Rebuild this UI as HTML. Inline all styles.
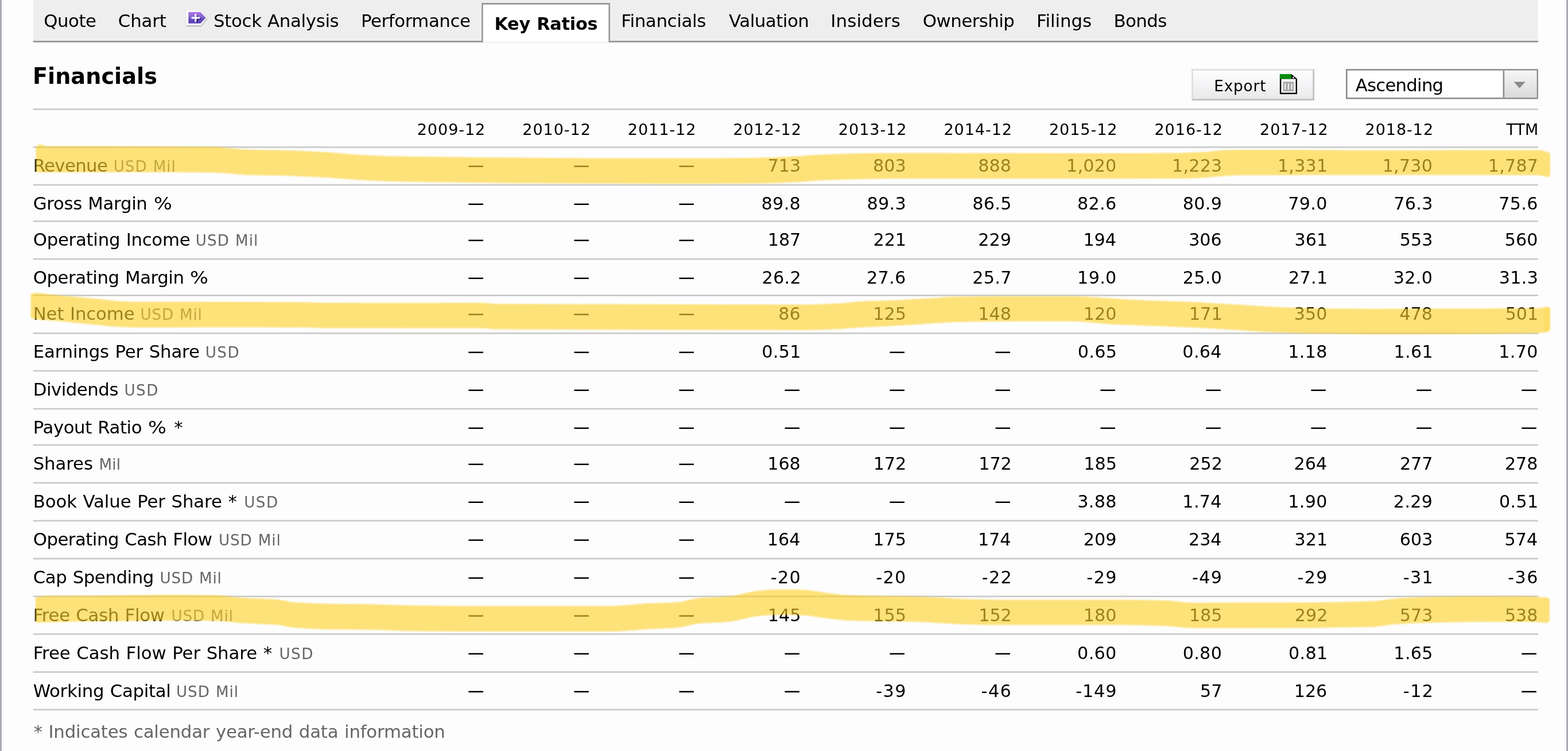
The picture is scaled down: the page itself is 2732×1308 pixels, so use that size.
<!DOCTYPE html>
<html lang="en">
<head>
<meta charset="utf-8">
<title>Key Ratios - Financials</title>
<style>
html,body,h2,p{margin:0;padding:0;}
h2{font-weight:bold;}
body{width:2732px;height:1308px;overflow:hidden;background:#fdfdfd;position:relative;font-family:"DejaVu Sans", "Liberation Sans", sans-serif;color:#000;}
#page{position:absolute;left:0;top:0;width:2732px;height:1308px;overflow:hidden;}
#page .t,#page .bx{position:absolute;white-space:nowrap;line-height:40px;}
#page svg{position:absolute;left:0;top:0;}
.u{color:#666;}
#tabbar{left:57.6px;top:0;width:2622.4px;height:71px;background:#eee;}
#lstrip{left:0;top:0;width:3px;height:1308px;background:#a9abb3;}
#rstrip{left:2729px;top:0;width:3px;height:1308px;background:#a9abb3;}
</style>
</head>
<body>
<div id="page">

<div id="lstrip" class="bx"></div><div id="rstrip" class="bx"></div>
<div id="tabbar" class="bx"></div>
<svg id="chrome" width="2732" height="1308" viewBox="0 0 2732 1308">
<defs>
<linearGradient id="bg1" x1="0" y1="0" x2="0" y2="1"><stop offset="0" stop-color="#fefefe"/><stop offset="0.45" stop-color="#f5f5f7"/><stop offset="1" stop-color="#e9e9ea"/></linearGradient>
<linearGradient id="bg2" x1="0" y1="0" x2="0" y2="1"><stop offset="0" stop-color="#f6f6f6"/><stop offset="1" stop-color="#dadada"/></linearGradient>
<linearGradient id="pg" x1="0" y1="0" x2="0" y2="1"><stop offset="0" stop-color="#b074e6"/><stop offset="0.4" stop-color="#8a68d2"/><stop offset="0.6" stop-color="#6a50c4"/><stop offset="1" stop-color="#5a3eb6"/></linearGradient>
<filter id="sh" x="-20%" y="-20%" width="140%" height="150%"><feGaussianBlur stdDeviation="1"/></filter>
</defs>
<rect x="57.6" y="71.1" width="2622.4" height="2.6" fill="#8f8f8f"/>
<rect x="839" y="5.1" width="224" height="69" fill="#9a9a9a"/>
<rect x="841.7" y="8" width="218.6" height="66.1" fill="#fff"/>
<rect x="841.7" y="73.2" width="218.6" height="0.9" fill="#ececec"/>
<rect x="57.6" y="188.95" width="2622.4" height="2.7" fill="#cacaca"/>
<rect x="57.6" y="254.95" width="2622.4" height="2.7" fill="#cacaca"/>
<rect x="57.6" y="320.65" width="2622.4" height="2.7" fill="#cacaca"/>
<rect x="57.6" y="383.95" width="2622.4" height="2.7" fill="#cacaca"/>
<rect x="57.6" y="449.85" width="2622.4" height="2.7" fill="#cacaca"/>
<rect x="57.6" y="513.15" width="2622.4" height="2.7" fill="#cacaca"/>
<rect x="57.6" y="579.15" width="2622.4" height="2.7" fill="#cacaca"/>
<rect x="57.6" y="644.65" width="2622.4" height="2.7" fill="#cacaca"/>
<rect x="57.6" y="710.65" width="2622.4" height="2.7" fill="#cacaca"/>
<rect x="57.6" y="773.65" width="2622.4" height="2.7" fill="#cacaca"/>
<rect x="57.6" y="839.65" width="2622.4" height="2.7" fill="#cacaca"/>
<rect x="57.6" y="905.65" width="2622.4" height="2.7" fill="#cacaca"/>
<rect x="57.6" y="971.65" width="2622.4" height="2.7" fill="#cacaca"/>
<rect x="57.6" y="1037.45" width="2622.4" height="2.7" fill="#cacaca"/>
<rect x="57.6" y="1103.15" width="2622.4" height="2.7" fill="#cacaca"/>
<rect x="57.6" y="1169.15" width="2622.4" height="2.7" fill="#cacaca"/>
<rect x="57.6" y="1234.65" width="2622.4" height="2.7" fill="#cacaca"/>
<rect x="2076" y="120.1" width="214" height="54.8" fill="#bdbdbd"/>
<path d="M2076 120.1 H2290 L2287.4 122.7 H2078.6 V172.3 L2076 174.9 Z" fill="#dedede"/>
<rect x="2078.6" y="122.7" width="208.8" height="49.6" fill="url(#bg1)"/>
<rect x="2345" y="120.2" width="335" height="52.3" fill="#8c8c8c"/>
<rect x="2347.6" y="122.8" width="329.8" height="47.1" fill="#fff"/>
<rect x="2620" y="122.8" width="57.4" height="47.1" fill="url(#bg2)"/>
<rect x="2618.6" y="122.8" width="2.6" height="47.1" fill="#8c8c8c"/>
<path d="M2637.5 142.5 H2657.6 L2647.5 153.8 Z" fill="#8a8a8a"/>
<path d="M324.5 21 H350 L361.5 32.5 L350 46 H324.5 Z" fill="#000" opacity="0.28" filter="url(#sh)"/>
<path d="M323.6 18.6 H350 L361 31 L350 44.2 H323.6 Z" fill="#f7f7f7"/>
<path d="M328.3 20.9 H349.3 L358.6 31 L349.3 40.7 H328.3 Z" fill="url(#pg)"/>
<path d="M343 27 h2 v5 h5 v2 h-5 v5 h-3 v-5" fill="#1c1a6a" opacity="0.75"/>
<rect x="333.6" y="29.6" width="14.4" height="3" fill="#fff"/>
<rect x="339.3" y="24" width="3" height="14.2" fill="#fff"/>
<path d="M2229.9 129 H2250 L2260 137.2 V163.9 H2229.9 Z" fill="#000"/>
<rect x="2232.3" y="137.4" width="25.3" height="24.1" fill="#f6f6f6"/>
<rect x="2229.9" y="129" width="20.1" height="8.4" fill="#078a07"/>
<rect x="2252.2" y="133.6" width="2.6" height="2.6" fill="#eee"/>
<rect x="2235.7" y="142.4" width="18.5" height="16.6" fill="#a6a6a6"/>
<rect x="2238.2" y="145.4" width="2.2" height="10.6" fill="#f4f4f4"/>
<rect x="2243.8" y="145.4" width="2.2" height="10.6" fill="#f4f4f4"/>
<rect x="2249.5" y="145.4" width="2.2" height="10.6" fill="#f4f4f4"/>
</svg>
<nav id="tabs" role="tablist">
<div class="t" role="tab" style="left:76.17px;top:16px;font-size:30.8px;letter-spacing:-0.441px;word-spacing:1.00px;">Quote</div>
<div class="t" role="tab" style="left:205.87px;top:16px;font-size:30.8px;letter-spacing:-0.168px;word-spacing:1.00px;">Chart</div>
<div class="t" role="tab" style="left:372.07px;top:16px;font-size:30.8px;letter-spacing:-0.331px;word-spacing:1.00px;">Stock Analysis</div>
<div class="t" role="tab" style="left:629.08px;top:16px;font-size:30.8px;letter-spacing:-0.441px;word-spacing:1.00px;">Performance</div>
<div class="t" role="tab" style="left:861.43px;top:22px;font-size:30.2px;letter-spacing:-0.177px;word-spacing:1.00px;font-weight:bold;">Key Ratios</div>
<div class="t" role="tab" style="left:1082.33px;top:16px;font-size:30.8px;letter-spacing:-0.338px;word-spacing:1.00px;">Financials</div>
<div class="t" role="tab" style="left:1270.11px;top:16px;font-size:30.8px;letter-spacing:-0.474px;word-spacing:1.00px;">Valuation</div>
<div class="t" role="tab" style="left:1447.33px;top:16px;font-size:30.8px;letter-spacing:0.137px;word-spacing:1.00px;">Insiders</div>
<div class="t" role="tab" style="left:1607.87px;top:16px;font-size:30.8px;letter-spacing:-0.528px;word-spacing:1.00px;">Ownership</div>
<div class="t" role="tab" style="left:1806.08px;top:16px;font-size:30.8px;letter-spacing:-0.065px;word-spacing:1.00px;">Filings</div>
<div class="t" role="tab" style="left:1940.58px;top:16px;font-size:30.8px;letter-spacing:-0.616px;word-spacing:1.00px;">Bonds</div>
</nav>
<section id="toolbar">
<h2 class="t" style="left:56.89px;top:113px;font-size:38.2px;letter-spacing:0.046px;font-weight:bold;">Financials</h2>
<div class="t" role="button" style="left:2115.21px;top:130px;font-size:26.4px;letter-spacing:0.781px;">Export</div>
<div class="t" role="combobox" style="left:2361.76px;top:128px;font-size:30.8px;letter-spacing:-0.783px;">Ascending</div>
</section>
<section id="financials" role="table">
<div class="row" role="row">
<div class="t" role="columnheader" style="left:726.72px;top:206px;font-size:27.0px;letter-spacing:0.961px;">2009-12</div>
<div class="t" role="columnheader" style="left:910.26px;top:206px;font-size:27.0px;letter-spacing:0.961px;">2010-12</div>
<div class="t" role="columnheader" style="left:1093.79px;top:206px;font-size:27.0px;letter-spacing:0.961px;">2011-12</div>
<div class="t" role="columnheader" style="left:1277.33px;top:206px;font-size:27.0px;letter-spacing:0.961px;">2012-12</div>
<div class="t" role="columnheader" style="left:1460.86px;top:206px;font-size:27.0px;letter-spacing:0.961px;">2013-12</div>
<div class="t" role="columnheader" style="left:1644.40px;top:206px;font-size:27.0px;letter-spacing:0.961px;">2014-12</div>
<div class="t" role="columnheader" style="left:1827.93px;top:206px;font-size:27.0px;letter-spacing:0.961px;">2015-12</div>
<div class="t" role="columnheader" style="left:2011.47px;top:206px;font-size:27.0px;letter-spacing:0.961px;">2016-12</div>
<div class="t" role="columnheader" style="left:2195.00px;top:206px;font-size:27.0px;letter-spacing:0.961px;">2017-12</div>
<div class="t" role="columnheader" style="left:2378.54px;top:206px;font-size:27.0px;letter-spacing:0.961px;">2018-12</div>
<div class="t" role="columnheader" style="left:2624.48px;top:206px;font-size:27.0px;letter-spacing:0.026px;">TTM</div>
</div>
<div class="row" role="row">
<div class="t lb" style="left:57.70px;top:268px;font-size:30.8px;letter-spacing:-0.657px;word-spacing:1.00px;">Revenue</div>
<div class="t u" style="left:197.67px;top:270px;font-size:26.2px;letter-spacing:0.985px;word-spacing:0.80px;">USD Mil</div>
<div class="t" role="cell" style="left:815.12px;top:268px;font-size:35px;transform:scaleX(0.8074);transform-origin:0 0;">—</div>
<div class="t" role="cell" style="left:998.65px;top:268px;font-size:35px;transform:scaleX(0.8074);transform-origin:0 0;">—</div>
<div class="t" role="cell" style="left:1182.19px;top:268px;font-size:35px;transform:scaleX(0.8074);transform-origin:0 0;">—</div>
<div class="t" role="cell" style="left:1337.53px;top:269px;font-size:30.2px;">713</div>
<div class="t" role="cell" style="left:1521.07px;top:269px;font-size:30.2px;">803</div>
<div class="t" role="cell" style="left:1704.25px;top:269px;font-size:30.2px;">888</div>
<div class="t" role="cell" style="left:1858.11px;top:269px;font-size:30.2px;letter-spacing:0.200px;">1,020</div>
<div class="t" role="cell" style="left:2042.06px;top:269px;font-size:30.2px;letter-spacing:0.200px;">1,223</div>
<div class="t" role="cell" style="left:2225.96px;top:269px;font-size:30.2px;letter-spacing:0.200px;">1,331</div>
<div class="t" role="cell" style="left:2408.71px;top:269px;font-size:30.2px;letter-spacing:0.200px;">1,730</div>
<div class="t" role="cell" style="left:2592.82px;top:269px;font-size:30.2px;letter-spacing:0.200px;">1,787</div>
</div>
<div class="row" role="row">
<div class="t lb" style="left:57.70px;top:334px;font-size:30.8px;letter-spacing:-0.324px;word-spacing:1.00px;">Gross Margin</div>
<div class="t lb" style="left:267.80px;top:334px;font-size:30.8px;transform:scaleX(1.0900);transform-origin:0 0;">%</div>
<div class="t" role="cell" style="left:815.12px;top:334px;font-size:35px;transform:scaleX(0.8074);transform-origin:0 0;">—</div>
<div class="t" role="cell" style="left:998.65px;top:334px;font-size:35px;transform:scaleX(0.8074);transform-origin:0 0;">—</div>
<div class="t" role="cell" style="left:1182.19px;top:334px;font-size:35px;transform:scaleX(0.8074);transform-origin:0 0;">—</div>
<div class="t" role="cell" style="left:1326.58px;top:335px;font-size:30.2px;letter-spacing:0.333px;">89.8</div>
<div class="t" role="cell" style="left:1510.47px;top:335px;font-size:30.2px;letter-spacing:0.333px;">89.3</div>
<div class="t" role="cell" style="left:1694.22px;top:335px;font-size:30.2px;letter-spacing:0.333px;">86.5</div>
<div class="t" role="cell" style="left:1877.02px;top:335px;font-size:30.2px;letter-spacing:0.333px;">82.6</div>
<div class="t" role="cell" style="left:2060.78px;top:335px;font-size:30.2px;letter-spacing:0.333px;">80.9</div>
<div class="t" role="cell" style="left:2244.19px;top:335px;font-size:30.2px;letter-spacing:0.333px;">79.0</div>
<div class="t" role="cell" style="left:2428.14px;top:335px;font-size:30.2px;letter-spacing:0.333px;">76.3</div>
<div class="t" role="cell" style="left:2611.16px;top:335px;font-size:30.2px;letter-spacing:0.333px;">75.6</div>
</div>
<div class="row" role="row">
<div class="t lb" style="left:57.70px;top:397px;font-size:30.8px;letter-spacing:-0.278px;word-spacing:1.00px;">Operating Income</div>
<div class="t u" style="left:340.82px;top:399px;font-size:26.2px;letter-spacing:1.043px;word-spacing:0.80px;">USD Mil</div>
<div class="t" role="cell" style="left:815.12px;top:397px;font-size:35px;transform:scaleX(0.8074);transform-origin:0 0;">—</div>
<div class="t" role="cell" style="left:998.65px;top:397px;font-size:35px;transform:scaleX(0.8074);transform-origin:0 0;">—</div>
<div class="t" role="cell" style="left:1182.19px;top:397px;font-size:35px;transform:scaleX(0.8074);transform-origin:0 0;">—</div>
<div class="t" role="cell" style="left:1337.69px;top:398px;font-size:30.2px;">187</div>
<div class="t" role="cell" style="left:1521.43px;top:398px;font-size:30.2px;">221</div>
<div class="t" role="cell" style="left:1704.31px;top:398px;font-size:30.2px;">229</div>
<div class="t" role="cell" style="left:1887.41px;top:398px;font-size:30.2px;">194</div>
<div class="t" role="cell" style="left:2071.15px;top:398px;font-size:30.2px;">306</div>
<div class="t" role="cell" style="left:2255.57px;top:398px;font-size:30.2px;">361</div>
<div class="t" role="cell" style="left:2438.74px;top:398px;font-size:30.2px;">553</div>
<div class="t" role="cell" style="left:2621.86px;top:398px;font-size:30.2px;">560</div>
</div>
<div class="row" role="row">
<div class="t lb" style="left:57.70px;top:463px;font-size:30.8px;letter-spacing:-0.444px;word-spacing:1.00px;">Operating Margin</div>
<div class="t lb" style="left:331.20px;top:463px;font-size:30.8px;transform:scaleX(1.0900);transform-origin:0 0;">%</div>
<div class="t" role="cell" style="left:815.12px;top:463px;font-size:35px;transform:scaleX(0.8074);transform-origin:0 0;">—</div>
<div class="t" role="cell" style="left:998.65px;top:463px;font-size:35px;transform:scaleX(0.8074);transform-origin:0 0;">—</div>
<div class="t" role="cell" style="left:1182.19px;top:463px;font-size:35px;transform:scaleX(0.8074);transform-origin:0 0;">—</div>
<div class="t" role="cell" style="left:1327.54px;top:464px;font-size:30.2px;letter-spacing:0.333px;">26.2</div>
<div class="t" role="cell" style="left:1509.95px;top:464px;font-size:30.2px;letter-spacing:0.333px;">27.6</div>
<div class="t" role="cell" style="left:1694.16px;top:464px;font-size:30.2px;letter-spacing:0.333px;">25.7</div>
<div class="t" role="cell" style="left:1877.12px;top:464px;font-size:30.2px;letter-spacing:0.333px;">19.0</div>
<div class="t" role="cell" style="left:2060.66px;top:464px;font-size:30.2px;letter-spacing:0.333px;">25.0</div>
<div class="t" role="cell" style="left:2244.97px;top:464px;font-size:30.2px;letter-spacing:0.333px;">27.1</div>
<div class="t" role="cell" style="left:2427.73px;top:464px;font-size:30.2px;letter-spacing:0.333px;">32.0</div>
<div class="t" role="cell" style="left:2611.68px;top:464px;font-size:30.2px;letter-spacing:0.333px;">31.3</div>
</div>
<div class="row" role="row">
<div class="t lb" style="left:57.70px;top:526px;font-size:30.8px;letter-spacing:-0.139px;word-spacing:1.00px;">Net Income</div>
<div class="t u" style="left:244.42px;top:528px;font-size:26.2px;letter-spacing:0.860px;word-spacing:0.80px;">USD Mil</div>
<div class="t" role="cell" style="left:815.12px;top:526px;font-size:35px;transform:scaleX(0.8074);transform-origin:0 0;">—</div>
<div class="t" role="cell" style="left:998.65px;top:526px;font-size:35px;transform:scaleX(0.8074);transform-origin:0 0;">—</div>
<div class="t" role="cell" style="left:1182.19px;top:526px;font-size:35px;transform:scaleX(0.8074);transform-origin:0 0;">—</div>
<div class="t" role="cell" style="left:1356.23px;top:527px;font-size:30.2px;">86</div>
<div class="t" role="cell" style="left:1521.29px;top:527px;font-size:30.2px;">125</div>
<div class="t" role="cell" style="left:1704.25px;top:527px;font-size:30.2px;">148</div>
<div class="t" role="cell" style="left:1887.72px;top:527px;font-size:30.2px;">120</div>
<div class="t" role="cell" style="left:2072.04px;top:527px;font-size:30.2px;">171</div>
<div class="t" role="cell" style="left:2254.79px;top:527px;font-size:30.2px;">350</div>
<div class="t" role="cell" style="left:2438.39px;top:527px;font-size:30.2px;">478</div>
<div class="t" role="cell" style="left:2622.64px;top:527px;font-size:30.2px;">501</div>
</div>
<div class="row" role="row">
<div class="t lb" style="left:57.70px;top:592px;font-size:30.8px;letter-spacing:-0.177px;word-spacing:1.00px;">Earnings Per Share</div>
<div class="t u" style="left:357.67px;top:594px;font-size:26.2px;letter-spacing:1.522px;word-spacing:0.80px;">USD</div>
<div class="t" role="cell" style="left:815.12px;top:592px;font-size:35px;transform:scaleX(0.8074);transform-origin:0 0;">—</div>
<div class="t" role="cell" style="left:998.65px;top:592px;font-size:35px;transform:scaleX(0.8074);transform-origin:0 0;">—</div>
<div class="t" role="cell" style="left:1182.19px;top:592px;font-size:35px;transform:scaleX(0.8074);transform-origin:0 0;">—</div>
<div class="t" role="cell" style="left:1327.30px;top:593px;font-size:30.2px;letter-spacing:0.333px;">0.51</div>
<div class="t" role="cell" style="left:1549.26px;top:592px;font-size:35px;transform:scaleX(0.8074);transform-origin:0 0;">—</div>
<div class="t" role="cell" style="left:1732.79px;top:592px;font-size:35px;transform:scaleX(0.8074);transform-origin:0 0;">—</div>
<div class="t" role="cell" style="left:1877.76px;top:593px;font-size:30.2px;letter-spacing:0.333px;">0.65</div>
<div class="t" role="cell" style="left:2060.35px;top:593px;font-size:30.2px;letter-spacing:0.333px;">0.64</div>
<div class="t" role="cell" style="left:2244.25px;top:593px;font-size:30.2px;letter-spacing:0.333px;">1.18</div>
<div class="t" role="cell" style="left:2428.51px;top:593px;font-size:30.2px;letter-spacing:0.333px;">1.61</div>
<div class="t" role="cell" style="left:2611.26px;top:593px;font-size:30.2px;letter-spacing:0.333px;">1.70</div>
</div>
<div class="row" role="row">
<div class="t lb" style="left:57.70px;top:658px;font-size:30.8px;letter-spacing:-0.484px;word-spacing:1.00px;">Dividends</div>
<div class="t u" style="left:216.42px;top:660px;font-size:26.2px;letter-spacing:1.522px;word-spacing:0.80px;">USD</div>
<div class="t" role="cell" style="left:815.12px;top:658px;font-size:35px;transform:scaleX(0.8074);transform-origin:0 0;">—</div>
<div class="t" role="cell" style="left:998.65px;top:658px;font-size:35px;transform:scaleX(0.8074);transform-origin:0 0;">—</div>
<div class="t" role="cell" style="left:1182.19px;top:658px;font-size:35px;transform:scaleX(0.8074);transform-origin:0 0;">—</div>
<div class="t" role="cell" style="left:1365.72px;top:658px;font-size:35px;transform:scaleX(0.8074);transform-origin:0 0;">—</div>
<div class="t" role="cell" style="left:1549.26px;top:658px;font-size:35px;transform:scaleX(0.8074);transform-origin:0 0;">—</div>
<div class="t" role="cell" style="left:1732.79px;top:658px;font-size:35px;transform:scaleX(0.8074);transform-origin:0 0;">—</div>
<div class="t" role="cell" style="left:1916.33px;top:658px;font-size:35px;transform:scaleX(0.8074);transform-origin:0 0;">—</div>
<div class="t" role="cell" style="left:2099.86px;top:658px;font-size:35px;transform:scaleX(0.8074);transform-origin:0 0;">—</div>
<div class="t" role="cell" style="left:2283.40px;top:658px;font-size:35px;transform:scaleX(0.8074);transform-origin:0 0;">—</div>
<div class="t" role="cell" style="left:2466.93px;top:658px;font-size:35px;transform:scaleX(0.8074);transform-origin:0 0;">—</div>
<div class="t" role="cell" style="left:2650.47px;top:658px;font-size:35px;transform:scaleX(0.8074);transform-origin:0 0;">—</div>
</div>
<div class="row" role="row">
<div class="t lb" style="left:57.70px;top:724px;font-size:30.8px;letter-spacing:-0.428px;word-spacing:1.00px;">Payout Ratio</div>
<div class="t lb" style="left:258.20px;top:724px;font-size:30.8px;transform:scaleX(1.0900);transform-origin:0 0;">%</div>
<div class="t lb" style="left:303.30px;top:724px;font-size:30.8px;">*</div>
<div class="t" role="cell" style="left:815.12px;top:724px;font-size:35px;transform:scaleX(0.8074);transform-origin:0 0;">—</div>
<div class="t" role="cell" style="left:998.65px;top:724px;font-size:35px;transform:scaleX(0.8074);transform-origin:0 0;">—</div>
<div class="t" role="cell" style="left:1182.19px;top:724px;font-size:35px;transform:scaleX(0.8074);transform-origin:0 0;">—</div>
<div class="t" role="cell" style="left:1365.72px;top:724px;font-size:35px;transform:scaleX(0.8074);transform-origin:0 0;">—</div>
<div class="t" role="cell" style="left:1549.26px;top:724px;font-size:35px;transform:scaleX(0.8074);transform-origin:0 0;">—</div>
<div class="t" role="cell" style="left:1732.79px;top:724px;font-size:35px;transform:scaleX(0.8074);transform-origin:0 0;">—</div>
<div class="t" role="cell" style="left:1916.33px;top:724px;font-size:35px;transform:scaleX(0.8074);transform-origin:0 0;">—</div>
<div class="t" role="cell" style="left:2099.86px;top:724px;font-size:35px;transform:scaleX(0.8074);transform-origin:0 0;">—</div>
<div class="t" role="cell" style="left:2283.40px;top:724px;font-size:35px;transform:scaleX(0.8074);transform-origin:0 0;">—</div>
<div class="t" role="cell" style="left:2466.93px;top:724px;font-size:35px;transform:scaleX(0.8074);transform-origin:0 0;">—</div>
<div class="t" role="cell" style="left:2650.47px;top:724px;font-size:35px;transform:scaleX(0.8074);transform-origin:0 0;">—</div>
</div>
<div class="row" role="row">
<div class="t lb" style="left:57.70px;top:787px;font-size:30.8px;letter-spacing:-0.125px;word-spacing:1.00px;">Shares</div>
<div class="t u" style="left:172.38px;top:789px;font-size:26.2px;letter-spacing:0.282px;word-spacing:0.80px;">Mil</div>
<div class="t" role="cell" style="left:815.12px;top:787px;font-size:35px;transform:scaleX(0.8074);transform-origin:0 0;">—</div>
<div class="t" role="cell" style="left:998.65px;top:787px;font-size:35px;transform:scaleX(0.8074);transform-origin:0 0;">—</div>
<div class="t" role="cell" style="left:1182.19px;top:787px;font-size:35px;transform:scaleX(0.8074);transform-origin:0 0;">—</div>
<div class="t" role="cell" style="left:1337.18px;top:788px;font-size:30.2px;">168</div>
<div class="t" role="cell" style="left:1521.67px;top:788px;font-size:30.2px;">172</div>
<div class="t" role="cell" style="left:1705.21px;top:788px;font-size:30.2px;">172</div>
<div class="t" role="cell" style="left:1888.36px;top:788px;font-size:30.2px;">185</div>
<div class="t" role="cell" style="left:2072.28px;top:788px;font-size:30.2px;">252</div>
<div class="t" role="cell" style="left:2254.48px;top:788px;font-size:30.2px;">264</div>
<div class="t" role="cell" style="left:2438.90px;top:788px;font-size:30.2px;">277</div>
<div class="t" role="cell" style="left:2621.92px;top:788px;font-size:30.2px;">278</div>
</div>
<div class="row" role="row">
<div class="t lb" style="left:57.70px;top:853px;font-size:30.8px;letter-spacing:-0.121px;word-spacing:1.00px;">Book Value Per Share *</div>
<div class="t u" style="left:425.17px;top:855px;font-size:26.2px;letter-spacing:1.522px;word-spacing:0.80px;">USD</div>
<div class="t" role="cell" style="left:815.12px;top:853px;font-size:35px;transform:scaleX(0.8074);transform-origin:0 0;">—</div>
<div class="t" role="cell" style="left:998.65px;top:853px;font-size:35px;transform:scaleX(0.8074);transform-origin:0 0;">—</div>
<div class="t" role="cell" style="left:1182.19px;top:853px;font-size:35px;transform:scaleX(0.8074);transform-origin:0 0;">—</div>
<div class="t" role="cell" style="left:1365.72px;top:853px;font-size:35px;transform:scaleX(0.8074);transform-origin:0 0;">—</div>
<div class="t" role="cell" style="left:1549.26px;top:853px;font-size:35px;transform:scaleX(0.8074);transform-origin:0 0;">—</div>
<div class="t" role="cell" style="left:1732.79px;top:853px;font-size:35px;transform:scaleX(0.8074);transform-origin:0 0;">—</div>
<div class="t" role="cell" style="left:1877.18px;top:854px;font-size:30.2px;letter-spacing:0.333px;">3.88</div>
<div class="t" role="cell" style="left:2060.35px;top:854px;font-size:30.2px;letter-spacing:0.333px;">1.74</div>
<div class="t" role="cell" style="left:2244.19px;top:854px;font-size:30.2px;letter-spacing:0.333px;">1.90</div>
<div class="t" role="cell" style="left:2427.85px;top:854px;font-size:30.2px;letter-spacing:0.333px;">2.29</div>
<div class="t" role="cell" style="left:2612.04px;top:854px;font-size:30.2px;letter-spacing:0.333px;">0.51</div>
</div>
<div class="row" role="row">
<div class="t lb" style="left:57.70px;top:919px;font-size:30.8px;letter-spacing:-0.527px;word-spacing:1.00px;">Operating Cash Flow</div>
<div class="t u" style="left:380.92px;top:921px;font-size:26.2px;letter-spacing:0.943px;word-spacing:0.80px;">USD Mil</div>
<div class="t" role="cell" style="left:815.12px;top:919px;font-size:35px;transform:scaleX(0.8074);transform-origin:0 0;">—</div>
<div class="t" role="cell" style="left:998.65px;top:919px;font-size:35px;transform:scaleX(0.8074);transform-origin:0 0;">—</div>
<div class="t" role="cell" style="left:1182.19px;top:919px;font-size:35px;transform:scaleX(0.8074);transform-origin:0 0;">—</div>
<div class="t" role="cell" style="left:1336.81px;top:920px;font-size:30.2px;">164</div>
<div class="t" role="cell" style="left:1521.29px;top:920px;font-size:30.2px;">175</div>
<div class="t" role="cell" style="left:1703.88px;top:920px;font-size:30.2px;">174</div>
<div class="t" role="cell" style="left:1887.84px;top:920px;font-size:30.2px;">209</div>
<div class="t" role="cell" style="left:2070.95px;top:920px;font-size:30.2px;">234</div>
<div class="t" role="cell" style="left:2255.57px;top:920px;font-size:30.2px;">321</div>
<div class="t" role="cell" style="left:2438.74px;top:920px;font-size:30.2px;">603</div>
<div class="t" role="cell" style="left:2621.55px;top:920px;font-size:30.2px;">574</div>
</div>
<div class="row" role="row">
<div class="t lb" style="left:57.70px;top:985px;font-size:30.8px;letter-spacing:-0.443px;word-spacing:1.00px;">Cap Spending</div>
<div class="t u" style="left:278.42px;top:987px;font-size:26.2px;letter-spacing:0.860px;word-spacing:0.80px;">USD Mil</div>
<div class="t" role="cell" style="left:815.12px;top:985px;font-size:35px;transform:scaleX(0.8074);transform-origin:0 0;">—</div>
<div class="t" role="cell" style="left:998.65px;top:985px;font-size:35px;transform:scaleX(0.8074);transform-origin:0 0;">—</div>
<div class="t" role="cell" style="left:1182.19px;top:985px;font-size:35px;transform:scaleX(0.8074);transform-origin:0 0;">—</div>
<div class="t" role="cell" style="left:1342.63px;top:986px;font-size:30.2px;letter-spacing:1.400px;">-20</div>
<div class="t" role="cell" style="left:1526.17px;top:986px;font-size:30.2px;letter-spacing:1.400px;">-20</div>
<div class="t" role="cell" style="left:1710.72px;top:986px;font-size:30.2px;letter-spacing:1.400px;">-22</div>
<div class="t" role="cell" style="left:1893.36px;top:986px;font-size:30.2px;letter-spacing:1.400px;">-29</div>
<div class="t" role="cell" style="left:2076.89px;top:986px;font-size:30.2px;letter-spacing:1.400px;">-49</div>
<div class="t" role="cell" style="left:2260.43px;top:986px;font-size:30.2px;letter-spacing:1.400px;">-29</div>
<div class="t" role="cell" style="left:2444.63px;top:986px;font-size:30.2px;letter-spacing:1.400px;">-31</div>
<div class="t" role="cell" style="left:2627.28px;top:986px;font-size:30.2px;letter-spacing:1.400px;">-36</div>
</div>
<div class="row" role="row">
<div class="t lb" style="left:57.70px;top:1051px;font-size:30.8px;letter-spacing:-0.296px;word-spacing:1.00px;">Free Cash Flow</div>
<div class="t u" style="left:298.42px;top:1053px;font-size:26.2px;letter-spacing:0.860px;word-spacing:0.80px;">USD Mil</div>
<div class="t" role="cell" style="left:815.12px;top:1051px;font-size:35px;transform:scaleX(0.8074);transform-origin:0 0;">—</div>
<div class="t" role="cell" style="left:998.65px;top:1051px;font-size:35px;transform:scaleX(0.8074);transform-origin:0 0;">—</div>
<div class="t" role="cell" style="left:1182.19px;top:1051px;font-size:35px;transform:scaleX(0.8074);transform-origin:0 0;">—</div>
<div class="t" role="cell" style="left:1337.75px;top:1052px;font-size:30.2px;">145</div>
<div class="t" role="cell" style="left:1521.29px;top:1052px;font-size:30.2px;">155</div>
<div class="t" role="cell" style="left:1705.21px;top:1052px;font-size:30.2px;">152</div>
<div class="t" role="cell" style="left:1887.72px;top:1052px;font-size:30.2px;">180</div>
<div class="t" role="cell" style="left:2071.89px;top:1052px;font-size:30.2px;">185</div>
<div class="t" role="cell" style="left:2255.81px;top:1052px;font-size:30.2px;">292</div>
<div class="t" role="cell" style="left:2438.74px;top:1052px;font-size:30.2px;">573</div>
<div class="t" role="cell" style="left:2621.92px;top:1052px;font-size:30.2px;">538</div>
</div>
<div class="row" role="row">
<div class="t lb" style="left:57.70px;top:1117px;font-size:30.8px;letter-spacing:-0.099px;word-spacing:1.00px;">Free Cash Flow Per Share *</div>
<div class="t u" style="left:486.42px;top:1119px;font-size:26.2px;letter-spacing:1.522px;word-spacing:0.80px;">USD</div>
<div class="t" role="cell" style="left:815.12px;top:1117px;font-size:35px;transform:scaleX(0.8074);transform-origin:0 0;">—</div>
<div class="t" role="cell" style="left:998.65px;top:1117px;font-size:35px;transform:scaleX(0.8074);transform-origin:0 0;">—</div>
<div class="t" role="cell" style="left:1182.19px;top:1117px;font-size:35px;transform:scaleX(0.8074);transform-origin:0 0;">—</div>
<div class="t" role="cell" style="left:1365.72px;top:1117px;font-size:35px;transform:scaleX(0.8074);transform-origin:0 0;">—</div>
<div class="t" role="cell" style="left:1549.26px;top:1117px;font-size:35px;transform:scaleX(0.8074);transform-origin:0 0;">—</div>
<div class="t" role="cell" style="left:1732.79px;top:1117px;font-size:35px;transform:scaleX(0.8074);transform-origin:0 0;">—</div>
<div class="t" role="cell" style="left:1877.12px;top:1118px;font-size:30.2px;letter-spacing:0.333px;">0.60</div>
<div class="t" role="cell" style="left:2060.66px;top:1118px;font-size:30.2px;letter-spacing:0.333px;">0.80</div>
<div class="t" role="cell" style="left:2244.97px;top:1118px;font-size:30.2px;letter-spacing:0.333px;">0.81</div>
<div class="t" role="cell" style="left:2428.36px;top:1118px;font-size:30.2px;letter-spacing:0.333px;">1.65</div>
<div class="t" role="cell" style="left:2650.47px;top:1117px;font-size:35px;transform:scaleX(0.8074);transform-origin:0 0;">—</div>
</div>
<div class="row" role="row">
<div class="t lb" style="left:57.70px;top:1183px;font-size:30.8px;letter-spacing:-0.301px;word-spacing:1.00px;">Working Capital</div>
<div class="t u" style="left:306.92px;top:1185px;font-size:26.2px;letter-spacing:0.985px;word-spacing:0.80px;">USD Mil</div>
<div class="t" role="cell" style="left:815.12px;top:1183px;font-size:35px;transform:scaleX(0.8074);transform-origin:0 0;">—</div>
<div class="t" role="cell" style="left:998.65px;top:1183px;font-size:35px;transform:scaleX(0.8074);transform-origin:0 0;">—</div>
<div class="t" role="cell" style="left:1182.19px;top:1183px;font-size:35px;transform:scaleX(0.8074);transform-origin:0 0;">—</div>
<div class="t" role="cell" style="left:1365.72px;top:1183px;font-size:35px;transform:scaleX(0.8074);transform-origin:0 0;">—</div>
<div class="t" role="cell" style="left:1526.29px;top:1184px;font-size:30.2px;letter-spacing:1.400px;">-39</div>
<div class="t" role="cell" style="left:1709.60px;top:1184px;font-size:30.2px;letter-spacing:1.400px;">-46</div>
<div class="t" role="cell" style="left:1874.14px;top:1184px;font-size:30.2px;letter-spacing:0.933px;">-149</div>
<div class="t" role="cell" style="left:2091.05px;top:1184px;font-size:30.2px;">57</div>
<div class="t" role="cell" style="left:2254.69px;top:1184px;font-size:30.2px;">126</div>
<div class="t" role="cell" style="left:2444.86px;top:1184px;font-size:30.2px;letter-spacing:1.400px;">-12</div>
<div class="t" role="cell" style="left:2650.47px;top:1183px;font-size:35px;transform:scaleX(0.8074);transform-origin:0 0;">—</div>
</div>
</section>
<p class="t" style="left:58.68px;top:1254px;font-size:30.8px;letter-spacing:-0.192px;word-spacing:1.00px;color:#666;">* Indicates calendar year-end data information</p>
<svg id="hl" width="2732" height="1308" viewBox="0 0 2732 1308" style="position:absolute;left:0;top:0;pointer-events:none"><defs><filter id="hb" x="-1%" y="-20%" width="102%" height="140%"><feGaussianBlur stdDeviation="1.1"/></filter></defs><g fill="rgb(253,209,42)" opacity="0.62" filter="url(#hb)"><path d="M66.5 254.8C71.0 254.8 75.5 254.8 80.0 254.8C153.3 254.8 226.7 255.0 300.0 255.2C322.0 255.3 344.0 255.4 366.0 255.6C379.0 255.7 392.0 257.5 405.0 258.5C414.0 259.2 423.0 260.2 432.0 260.5C454.0 261.2 476.0 261.2 498.0 261.8C520.0 262.4 542.0 263.5 564.0 264.8C584.7 266.0 605.3 268.6 626.0 269.7C648.0 270.9 670.0 271.9 692.0 272.3C714.0 272.7 736.0 272.7 758.0 273.0C780.0 273.3 802.0 273.8 824.0 274.0C849.3 274.3 874.7 274.4 900.0 274.6C944.0 274.9 988.0 275.6 1032.0 275.6C1076.0 275.6 1120.0 275.6 1164.0 275.6C1189.3 275.6 1214.7 275.6 1240.0 275.5C1270.7 275.4 1301.3 275.1 1332.0 274.6C1349.7 274.3 1367.3 273.2 1385.0 272.3C1402.7 271.4 1420.3 269.7 1438.0 269.0C1460.0 268.1 1482.0 267.4 1504.0 267.1C1529.3 266.7 1554.7 266.4 1580.0 266.4C1693.3 266.4 1806.7 267.1 1920.0 267.1C1964.0 267.1 2008.0 266.8 2052.0 266.4C2065.0 266.3 2078.0 265.7 2091.0 265.1C2104.3 264.5 2117.7 262.5 2131.0 261.8C2139.7 261.4 2148.3 260.9 2157.0 260.9C2191.3 260.9 2225.7 261.0 2260.0 261.1C2293.3 261.2 2326.7 261.8 2360.0 261.8C2436.7 261.8 2513.3 261.4 2590.0 261.4C2612.0 261.4 2634.0 261.4 2656.0 261.4C2664.3 261.4 2672.7 261.4 2681.0 261.5C2685.0 261.5 2689.0 262.4 2693.0 263.4C2693.7 263.6 2694.3 264.1 2695.0 264.4Q2701.0 264.4 2701.0 270.4L2701.0 302.4Q2701.0 308.4 2695.0 308.4C2694.3 308.1 2693.7 307.6 2693.0 307.4C2689.0 306.4 2685.0 305.4 2681.0 305.4C2672.7 305.3 2664.3 305.3 2656.0 305.3C2634.0 305.2 2612.0 305.0 2590.0 305.0C2513.3 304.8 2436.7 304.7 2360.0 304.7C2326.7 304.7 2293.3 304.8 2260.0 304.9C2225.7 305.0 2191.3 305.1 2157.0 305.3C2148.3 305.4 2139.7 306.1 2131.0 306.7C2117.7 307.6 2104.3 309.5 2091.0 310.0C2078.0 310.5 2065.0 310.9 2052.0 311.0C2008.0 311.2 1964.0 311.3 1920.0 311.3C1806.7 311.3 1693.3 311.3 1580.0 311.3C1554.7 311.3 1529.3 311.6 1504.0 311.9C1482.0 312.2 1460.0 312.9 1438.0 313.7C1420.3 314.4 1402.7 316.4 1385.0 317.2C1367.3 318.0 1349.7 319.0 1332.0 319.2C1301.3 319.6 1270.7 319.9 1240.0 319.9C1214.7 319.9 1189.3 319.9 1164.0 319.9C1120.0 319.9 1076.0 319.7 1032.0 319.5C988.0 319.3 944.0 319.2 900.0 318.9C874.7 318.7 849.3 318.4 824.0 318.1C802.0 317.8 780.0 317.5 758.0 317.2C736.0 316.9 714.0 316.8 692.0 316.3C670.0 315.8 648.0 314.5 626.0 313.3C605.3 312.2 584.7 310.1 564.0 309.0C542.0 307.8 520.0 306.6 498.0 306.0C476.0 305.4 454.0 305.4 432.0 304.7C423.0 304.4 414.0 303.3 405.0 302.7C392.0 301.9 379.0 300.6 366.0 300.5C344.0 300.3 322.0 300.1 300.0 300.1C226.7 300.1 153.3 300.3 80.0 300.3C75.5 300.3 71.0 300.3 66.5 300.3Q62.5 300.3 62.5 296.3L62.5 258.8Q62.5 254.8 66.5 254.8Z"/><path d="M57.5 510.8C58.3 510.6 59.0 510.2 59.8 510.2C75.2 510.2 90.6 513.3 106.0 514.8C128.0 516.9 150.0 518.6 172.0 520.7C185.2 522.0 198.4 524.2 211.6 524.7C224.7 525.2 237.9 525.6 251.0 525.6C294.0 525.7 337.0 525.7 380.0 525.8C432.7 525.9 485.3 526.0 538.0 526.4C547.0 526.5 556.0 527.3 565.0 527.3C616.7 527.4 668.3 527.5 720.0 527.5C759.7 527.5 799.3 527.3 839.0 527.3C847.7 527.3 856.3 529.3 865.0 529.3C930.0 529.6 995.0 529.7 1060.0 529.8C1173.3 530.0 1286.7 530.4 1400.0 530.4C1417.7 530.4 1435.3 529.5 1453.0 528.7C1470.7 527.9 1488.3 525.5 1506.0 524.7C1523.3 523.9 1540.7 523.7 1558.0 523.0C1575.7 522.3 1593.3 521.1 1611.0 520.1C1628.7 519.1 1646.3 517.2 1664.0 516.8C1689.3 516.3 1714.7 515.9 1740.0 515.9C1784.0 515.9 1828.0 515.9 1872.0 515.9C1885.3 515.9 1898.7 517.3 1912.0 518.1C1925.0 518.9 1938.0 519.9 1951.0 520.7C1968.7 521.7 1986.3 522.7 2004.0 523.4C2029.3 524.4 2054.7 524.9 2080.0 526.0C2102.0 527.0 2124.0 528.7 2146.0 530.0C2168.0 531.3 2190.0 532.8 2212.0 533.9C2234.0 535.0 2256.0 536.1 2278.0 536.6C2300.0 537.1 2322.0 537.4 2344.0 537.5C2369.3 537.6 2394.7 537.7 2420.0 537.7C2476.7 537.7 2533.3 537.4 2590.0 537.2C2620.7 537.1 2651.3 537.0 2682.0 536.6C2686.3 536.5 2690.7 535.2 2695.0 534.5Q2701.0 534.5 2701.0 540.5L2701.0 571.5Q2701.0 577.5 2695.0 577.5C2690.7 578.4 2686.3 580.0 2682.0 580.1C2651.3 581.0 2620.7 581.3 2590.0 581.5C2533.3 581.8 2476.7 582.1 2420.0 582.1C2394.7 582.1 2369.3 581.8 2344.0 581.5C2322.0 581.3 2300.0 581.0 2278.0 580.5C2256.0 580.0 2234.0 579.3 2212.0 578.4C2190.0 577.5 2168.0 575.5 2146.0 574.2C2124.0 572.9 2102.0 571.4 2080.0 570.4C2054.7 569.3 2029.3 568.5 2004.0 567.6C1986.3 566.9 1968.7 566.5 1951.0 565.6C1938.0 565.0 1925.0 564.0 1912.0 563.0C1898.7 562.0 1885.3 559.7 1872.0 559.7C1828.0 559.7 1784.0 559.8 1740.0 559.9C1714.7 560.0 1689.3 560.4 1664.0 561.0C1646.3 561.4 1628.7 563.2 1611.0 564.3C1593.3 565.4 1575.7 566.7 1558.0 567.6C1540.7 568.5 1523.3 569.1 1506.0 570.0C1488.3 571.0 1470.7 572.8 1453.0 573.5C1435.3 574.2 1417.7 574.9 1400.0 574.9C1286.7 574.9 1173.3 574.5 1060.0 574.2C995.0 574.0 930.0 573.9 865.0 573.5C856.3 573.4 847.7 571.8 839.0 571.8C799.3 571.7 759.7 571.7 720.0 571.7C668.3 571.7 616.7 571.7 565.0 571.6C556.0 571.6 547.0 570.5 538.0 570.5C485.3 570.2 432.7 570.1 380.0 570.1C337.0 570.1 294.0 570.5 251.0 570.5C237.9 570.5 224.7 570.1 211.6 569.6C198.4 569.1 185.2 567.5 172.0 566.3C150.0 564.3 128.0 561.7 106.0 559.7C90.6 558.3 75.2 558.0 59.8 555.7C59.0 555.6 58.3 554.8 57.5 554.4Q53.5 554.4 53.5 550.4L53.5 514.8Q53.5 510.8 57.5 510.8Z"/><path d="M65.8 1039.5C70.4 1038.9 75.0 1037.9 79.6 1037.8C110.4 1037.4 141.2 1037.4 172.0 1037.2C194.0 1037.0 216.0 1036.7 238.0 1036.5C260.0 1036.3 282.0 1036.1 304.0 1036.1C329.3 1036.1 354.7 1036.4 380.0 1036.8C393.2 1037.0 406.4 1040.2 419.6 1041.1C441.6 1042.6 463.6 1042.7 485.6 1044.4C494.4 1045.1 503.2 1048.4 512.0 1049.0C534.0 1050.5 556.0 1051.4 578.0 1051.7C600.0 1052.0 622.0 1052.0 644.0 1052.3C669.3 1052.7 694.7 1054.3 720.0 1054.6C764.0 1055.1 808.0 1055.6 852.0 1055.6C921.3 1055.6 990.7 1055.6 1060.0 1055.5C1082.0 1055.5 1104.0 1052.1 1126.0 1051.0C1143.7 1050.1 1161.3 1050.1 1179.0 1049.0C1192.0 1048.2 1205.0 1043.0 1218.0 1041.8C1235.7 1040.2 1253.3 1040.2 1271.0 1038.5C1288.7 1036.8 1306.3 1030.0 1324.0 1028.6C1337.3 1027.5 1350.7 1026.6 1364.0 1026.6C1376.0 1026.6 1388.0 1026.9 1400.0 1027.3C1413.3 1027.8 1426.7 1031.0 1440.0 1032.5C1453.0 1034.0 1466.0 1036.0 1479.0 1036.5C1496.7 1037.2 1514.3 1037.4 1532.0 1037.8C1554.0 1038.3 1576.0 1038.5 1598.0 1039.1C1620.0 1039.7 1642.0 1041.6 1664.0 1042.4C1689.3 1043.3 1714.7 1044.4 1740.0 1044.4C1806.0 1044.4 1872.0 1044.4 1938.0 1044.4C1968.7 1044.4 1999.3 1045.0 2030.0 1045.7C2046.7 1046.1 2063.3 1049.7 2080.0 1049.7C2146.0 1049.7 2212.0 1049.5 2278.0 1049.3C2308.7 1049.2 2339.3 1048.4 2370.0 1047.7C2377.3 1047.5 2384.7 1047.4 2392.0 1047.1C2405.2 1046.5 2418.4 1043.3 2431.6 1042.4C2449.1 1041.2 2466.5 1040.2 2484.0 1039.8C2506.0 1039.3 2528.0 1038.8 2550.0 1038.7C2585.3 1038.6 2620.7 1038.5 2656.0 1038.5C2668.7 1038.5 2681.3 1039.8 2694.0 1040.5Q2700.0 1040.5 2700.0 1046.5L2700.0 1078.7Q2700.0 1084.7 2694.0 1084.7C2681.3 1084.2 2668.7 1083.1 2656.0 1083.1C2620.7 1083.1 2585.3 1083.2 2550.0 1083.4C2528.0 1083.5 2506.0 1084.1 2484.0 1084.7C2466.5 1085.2 2449.1 1086.1 2431.6 1087.3C2418.4 1088.2 2405.2 1091.5 2392.0 1091.9C2384.7 1092.1 2377.3 1092.2 2370.0 1092.3C2339.3 1092.8 2308.7 1093.6 2278.0 1093.7C2212.0 1093.8 2146.0 1093.9 2080.0 1093.9C2063.3 1093.9 2046.7 1090.7 2030.0 1090.2C1999.3 1089.3 1968.7 1088.6 1938.0 1088.6C1872.0 1088.6 1806.0 1088.6 1740.0 1088.6C1714.7 1088.6 1689.3 1087.6 1664.0 1086.7C1642.0 1085.9 1620.0 1083.7 1598.0 1083.1C1576.0 1082.5 1554.0 1082.4 1532.0 1082.0C1514.3 1081.7 1496.7 1081.6 1479.0 1081.0C1466.0 1080.6 1453.0 1078.3 1440.0 1076.8C1426.7 1075.2 1413.3 1072.3 1400.0 1071.7C1388.0 1071.2 1376.0 1070.8 1364.0 1070.8C1350.7 1070.8 1337.3 1071.7 1324.0 1072.8C1306.3 1074.2 1288.7 1081.0 1271.0 1082.7C1253.3 1084.4 1235.7 1084.3 1218.0 1086.0C1205.0 1087.2 1192.0 1092.3 1179.0 1093.3C1161.3 1094.7 1143.7 1094.9 1126.0 1095.9C1104.0 1097.1 1082.0 1100.1 1060.0 1100.1C990.7 1100.1 921.3 1100.0 852.0 1099.9C808.0 1099.8 764.0 1099.6 720.0 1099.2C694.7 1099.0 669.3 1097.1 644.0 1096.8C622.0 1096.5 600.0 1096.6 578.0 1096.3C556.0 1096.0 534.0 1094.9 512.0 1093.3C503.2 1092.7 494.4 1089.3 485.6 1088.6C463.6 1086.9 441.6 1086.7 419.6 1085.3C406.4 1084.4 393.2 1081.8 380.0 1081.5C354.7 1081.0 329.3 1080.7 304.0 1080.7C282.0 1080.7 260.0 1081.2 238.0 1081.4C216.0 1081.6 194.0 1081.7 172.0 1082.0C141.2 1082.4 110.4 1083.1 79.6 1084.0C75.0 1084.1 70.4 1084.5 65.8 1084.7Q61.8 1084.7 61.8 1080.7L61.8 1043.5Q61.8 1039.5 65.8 1039.5Z"/><ellipse cx="71" cy="256" rx="7" ry="4.5"/></g><path d="M2690 536.5 Q2697 533.5 2700.5 536 L2700.5 575 Q2697 579 2690 580 Z" fill="rgb(253,209,42)" opacity="0.22" filter="url(#hb)"/></svg>
</div>
</body>
</html>
